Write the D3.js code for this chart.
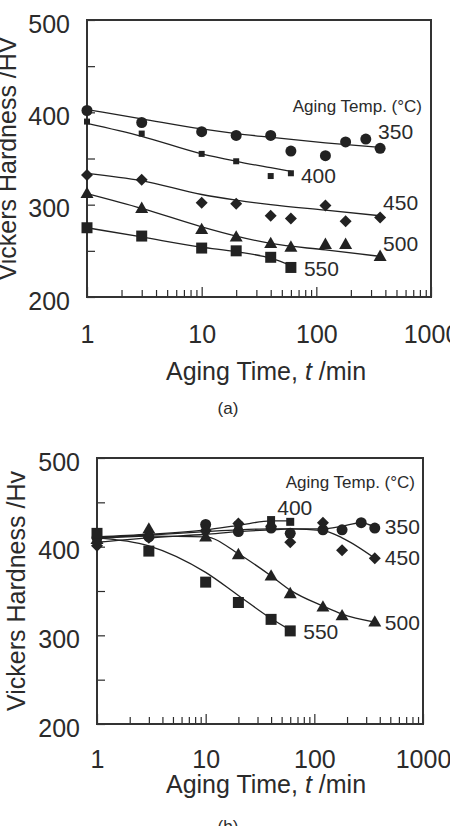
<!DOCTYPE html>
<html>
<head>
<meta charset="utf-8">
<script src="https://cdn.jsdelivr.net/npm/d3@7"></script>
<style>
  html, body { margin: 0; padding: 0; background: #fff; }
  svg { display: block; font-family: "Liberation Sans", Arial, Helvetica, sans-serif; }
  .axis text { fill: #2b2b2b; font-size: 25px; }
  .axis line { stroke: #2b2b2b; stroke-width: 1.2; }
</style>
</head>
<body>
<svg id="chart" width="450" height="826"></svg>
<script>
///////////////////////////////////////////////////////////
// Data (time in min, hardness in Hv)

const yTicks = [200, 250, 300, 350, 400, 450, 500];
const xLabels = [1, 10, 100, 1000];

// (a)
const a350Time = [1, 3, 10, 20, 40, 60, 120, 180, 270, 360];
const a350Hv = [402, 389, 379, 375, 375, 358, 353, 368, 371, 361];
const a350FitTime = [1, 3, 10, 20, 40, 120, 360];
const a350Fit = [403, 393, 382, 377, 373, 367, 362];

const a400Time = [1, 3, 10, 20, 40, 60];
const a400Hv = [390, 377, 355, 347, 331, 334];
const a400Fit = [388, 374, 355, 347, 340, 336];

const a450Time = [1, 3, 10, 20, 40, 60, 120, 180, 360];
const a450Hv = [332, 327, 302, 301, 288, 285, 299, 282, 286];
const a450FitTime = [1, 3, 10, 20, 40, 120, 360];
const a450Fit = [334, 326, 311, 305, 300, 294, 288];

const a500Time = [1, 3, 10, 20, 40, 60, 120, 180, 360];
const a500Hv = [312, 296, 273, 265, 258, 254, 257, 257, 244];
const a500FitTime = [1, 3, 10, 20, 40, 120, 360];
const a500Fit = [312, 296, 276, 266, 258, 251, 244];

const a550Time = [1, 3, 10, 20, 40, 60];
const a550Hv = [275, 266, 253, 250, 243, 232];
const a550Fit = [275, 265, 254, 249, 242, 234];

// (b)
const b350Time = [1, 3, 10, 20, 40, 60, 120, 180, 270, 360];
const b350Hv = [410, 411, 425, 417, 421, 415, 419, 419, 427, 421];
const b350Fit = [410, 413, 417, 419, 420, 420, 420, 423, 427, 422];

const b400Time = [1, 3, 10, 20, 40, 60];
const b400Hv = [413, 413, 419, 424, 430, 428];
const b400Fit = [411, 414, 419, 424, 429, 429];

const b450Time = [1, 3, 10, 20, 40, 60, 120, 180, 360];
const b450Hv = [401, 410, 418, 426, 423, 405, 427, 396, 387];
const b450Fit = [405, 410, 414, 417, 419, 420, 418, 410, 387];

const b500Time = [1, 3, 10, 20, 40, 60, 120, 180, 360];
const b500Hv = [408, 420, 411, 391, 367, 347, 332, 322, 315];
const b500Fit = [409, 412, 411, 392, 367, 351, 333, 324, 315];

const b550Time = [1, 3, 10, 20, 40, 60];
const b550Hv = [415, 395, 360, 337, 318, 305];
const b550Fit = [410, 401, 371, 345, 319, 306];

///////////////////////////////////////////////////////////
// Marker shapes

const ink = "#222";

function markerPath(kind, s) {
  const p = d3.path();
  if (kind === "circle") {
    p.arc(0, 0, s / 2, 0, 2 * Math.PI);
  } else if (kind === "square") {
    p.rect(-s / 2, -s / 2, s, s);
  } else if (kind === "diamond") {
    const h = s / 2;
    p.moveTo(0, -h); p.lineTo(h, 0); p.lineTo(0, h); p.lineTo(-h, 0); p.closePath();
  } else if (kind === "triangle") {
    const h = s * 0.87;
    p.moveTo(0, -h * 0.6); p.lineTo(s / 2, h * 0.4); p.lineTo(-s / 2, h * 0.4); p.closePath();
  }
  return p.toString();
}

///////////////////////////////////////////////////////////
// One panel

const svg = d3.select("#chart");

function drawPanel(cfg) {
  const x = d3.scaleLog().domain([1, 1000]).range([cfg.left, cfg.right]);
  const y = d3.scaleLinear().domain([200, 500]).range([cfg.bottom, cfg.top]);
  const g = svg.append("g");

  // x axis: minor ticks inside, labels at decades
  const minor = x.ticks().filter(v => xLabels.indexOf(v) < 0);
  g.append("g").attr("class", "axis")
    .attr("transform", `translate(0,${cfg.bottom})`)
    .call(d3.axisBottom(x).tickValues(minor).tickSize(-7).tickFormat(""))
    .call(a => a.select(".domain").remove());
  g.append("g").attr("class", "axis")
    .attr("transform", `translate(0,${cfg.bottom})`)
    .call(d3.axisBottom(x).tickValues(xLabels).tickSize(-10).tickPadding(cfg.xPad).tickFormat(d3.format("d")))
    .call(a => a.select(".domain").remove());

  // y axis: ticks every 50, labels every 100
  g.append("g").attr("class", "axis")
    .attr("transform", `translate(${cfg.left},0)`)
    .call(d3.axisLeft(y).tickValues(yTicks).tickSize(-8).tickPadding(17)
      .tickFormat(v => v % 100 === 0 ? v : ""))
    .call(a => a.select(".domain").remove())
    .call(a => a.selectAll("text").attr("dy", "0.48em"));

  // frame
  g.append("rect")
    .attr("x", cfg.left).attr("y", cfg.top)
    .attr("width", cfg.right - cfg.left).attr("height", cfg.bottom - cfg.top)
    .attr("fill", "none").attr("stroke", "#333").attr("stroke-width", 2);

  // fitted curves
  const line = d3.line()
    .x(d => x(d[0])).y(d => y(d[1]))
    .curve(d3.curveMonotoneX);

  cfg.series.forEach(s => {
    const fitT = s.fitTime || s.time;
    g.append("path")
      .datum(d3.zip(fitT, s.fit))
      .attr("d", line)
      .attr("fill", "none").attr("stroke", ink).attr("stroke-width", 1.3);
  });

  // markers
  cfg.series.forEach(s => {
    g.append("g").selectAll("path")
      .data(d3.zip(s.time, s.hv))
      .join("path")
      .attr("transform", d => `translate(${x(d[0])},${y(d[1])})`)
      .attr("d", markerPath(s.shape, s.size))
      .attr("fill", ink);
  });

  // series labels beside the last point
  cfg.series.forEach(s => {
    const fitT = s.fitTime || s.time;
    const lt = fitT[fitT.length - 1], lv = s.fit[s.fit.length - 1];
    g.append("text")
      .attr("x", x(lt) + s.dx).attr("y", y(lv) + s.dy)
      .attr("font-size", 21).attr("fill", "#2b2b2b")
      .text(s.name);
  });

  // legend title
  g.append("text")
    .attr("x", cfg.legendX).attr("y", cfg.legendY)
    .attr("text-anchor", "end").attr("font-size", 17).attr("fill", "#2b2b2b")
    .text("Aging Temp. (\u00B0C)");

  // axis titles
  g.append("text")
    .attr("transform", `translate(${cfg.yTitleX},${(cfg.top + cfg.bottom) / 2}) rotate(-90)`)
    .attr("text-anchor", "middle").attr("font-size", 25).attr("fill", "#2b2b2b")
    .text(cfg.yTitle);

  const xt = g.append("text")
    .attr("x", 266).attr("y", cfg.xTitleY)
    .attr("text-anchor", "middle").attr("font-size", 25).attr("fill", "#2b2b2b");
  xt.append("tspan").text("Aging Time, ");
  xt.append("tspan").attr("font-style", "italic").text("t");
  xt.append("tspan").text(" /min");

  g.append("text")
    .attr("x", 228).attr("y", cfg.tagY)
    .attr("text-anchor", "middle").attr("font-size", 17).attr("fill", "#2b2b2b")
    .text(cfg.tag);
}

drawPanel({
  left: 87, right: 431, top: 20, bottom: 297, xPad: 28,
  yTitle: "Vickers Hardness /HV", yTitleX: 16, xTitleY: 380,
  legendX: 422, legendY: 112, tag: "(a)", tagY: 414,
  series: [
    { name: "350", time: a350Time, hv: a350Hv, fitTime: a350FitTime, fit: a350Fit, shape: "circle", size: 11, dx: -2, dy: -8 },
    { name: "400", time: a400Time, hv: a400Hv, fit: a400Fit, shape: "square", size: 6, dx: 10, dy: 12 },
    { name: "450", time: a450Time, hv: a450Hv, fitTime: a450FitTime, fit: a450Fit, shape: "diamond", size: 12, dx: 3, dy: -6 },
    { name: "500", time: a500Time, hv: a500Hv, fitTime: a500FitTime, fit: a500Fit, shape: "triangle", size: 13, dx: 3, dy: -5 },
    { name: "550", time: a550Time, hv: a550Hv, fit: a550Fit, shape: "square", size: 11, dx: 13, dy: 10 }
  ]
});

drawPanel({
  left: 97, right: 423, top: 458, bottom: 724, xPad: 26,
  yTitle: "Vickers Hardness /Hv", yTitleX: 25, xTitleY: 793,
  legendX: 415, legendY: 488, tag: "(b)", tagY: 832,
  series: [
    { name: "350", time: b350Time, hv: b350Hv, fit: b350Fit, shape: "circle", size: 11, dx: 10, dy: 7 },
    { name: "400", time: b400Time, hv: b400Hv, fit: b400Fit, shape: "square", size: 8, dx: -13, dy: -6 },
    { name: "450", time: b450Time, hv: b450Hv, fit: b450Fit, shape: "diamond", size: 12, dx: 10, dy: 7 },
    { name: "500", time: b500Time, hv: b500Hv, fit: b500Fit, shape: "triangle", size: 13, dx: 10, dy: 8 },
    { name: "550", time: b550Time, hv: b550Hv, fit: b550Fit, shape: "square", size: 11, dx: 13, dy: 9 }
  ]
});
</script>
</body>
</html>
